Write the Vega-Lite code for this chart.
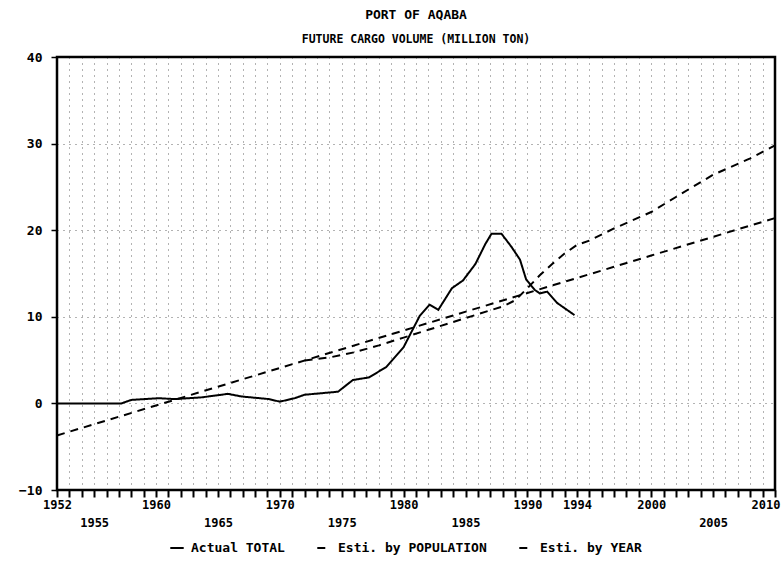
{
  "$schema": "https://vega.github.io/schema/vega-lite/v6.json",
  "width": 718,
  "height": 433,
  "autosize": "none",
  "padding": {"left": 57, "top": 57, "right": 7, "bottom": 84},
  "background": "white",
  "config": {
    "view": {"stroke": "black", "strokeWidth": 2.5},
    "font": "DejaVu Sans Mono"
  },
  "title": {
    "text": "PORT OF AQABA",
    "subtitle": "FUTURE CARGO VOLUME (MILLION TON)",
    "anchor": "middle",
    "font": "DejaVu Sans Mono",
    "fontSize": 13,
    "fontWeight": "bold",
    "color": "black",
    "subtitleFont": "DejaVu Sans Mono",
    "subtitleFontSize": 11.5,
    "subtitleFontWeight": "bold",
    "subtitleColor": "black",
    "subtitlePadding": 12,
    "offset": 6
  },
  "datasets": {
    "cargo": [
      {"year": 1952, "value": 0, "series": "Actual TOTAL"},
      {"year": 1957.2, "value": 0, "series": "Actual TOTAL"},
      {"year": 1958, "value": 0.4, "series": "Actual TOTAL"},
      {"year": 1960.2, "value": 0.6, "series": "Actual TOTAL"},
      {"year": 1961.5, "value": 0.5, "series": "Actual TOTAL"},
      {"year": 1963.7, "value": 0.7, "series": "Actual TOTAL"},
      {"year": 1965.8, "value": 1.1, "series": "Actual TOTAL"},
      {"year": 1966.9, "value": 0.8, "series": "Actual TOTAL"},
      {"year": 1969.1, "value": 0.5, "series": "Actual TOTAL"},
      {"year": 1970, "value": 0.2, "series": "Actual TOTAL"},
      {"year": 1971.2, "value": 0.6, "series": "Actual TOTAL"},
      {"year": 1972, "value": 1.0, "series": "Actual TOTAL"},
      {"year": 1974.7, "value": 1.35, "series": "Actual TOTAL"},
      {"year": 1975.9, "value": 2.7, "series": "Actual TOTAL"},
      {"year": 1977.2, "value": 3.0, "series": "Actual TOTAL"},
      {"year": 1978.6, "value": 4.2, "series": "Actual TOTAL"},
      {"year": 1980, "value": 6.5, "series": "Actual TOTAL"},
      {"year": 1981.3, "value": 10.1, "series": "Actual TOTAL"},
      {"year": 1982.1, "value": 11.4, "series": "Actual TOTAL"},
      {"year": 1982.8, "value": 10.8, "series": "Actual TOTAL"},
      {"year": 1983.9, "value": 13.3, "series": "Actual TOTAL"},
      {"year": 1984.8, "value": 14.2, "series": "Actual TOTAL"},
      {"year": 1985.8, "value": 16.1, "series": "Actual TOTAL"},
      {"year": 1986.6, "value": 18.4, "series": "Actual TOTAL"},
      {"year": 1987.1, "value": 19.6, "series": "Actual TOTAL"},
      {"year": 1987.9, "value": 19.6, "series": "Actual TOTAL"},
      {"year": 1988.7, "value": 18.1, "series": "Actual TOTAL"},
      {"year": 1989.4, "value": 16.6, "series": "Actual TOTAL"},
      {"year": 1989.9, "value": 14.3, "series": "Actual TOTAL"},
      {"year": 1990.6, "value": 13.1, "series": "Actual TOTAL"},
      {"year": 1991.0, "value": 12.7, "series": "Actual TOTAL"},
      {"year": 1991.6, "value": 12.9, "series": "Actual TOTAL"},
      {"year": 1992.4, "value": 11.6, "series": "Actual TOTAL"},
      {"year": 1993.8, "value": 10.2, "series": "Actual TOTAL"},
      {"year": 1972, "value": 4.95, "series": "Esti. by POPULATION"},
      {"year": 1974, "value": 5.3, "series": "Esti. by POPULATION"},
      {"year": 1976, "value": 5.9, "series": "Esti. by POPULATION"},
      {"year": 1978, "value": 6.7, "series": "Esti. by POPULATION"},
      {"year": 1980, "value": 7.6, "series": "Esti. by POPULATION"},
      {"year": 1982, "value": 8.5, "series": "Esti. by POPULATION"},
      {"year": 1984, "value": 9.4, "series": "Esti. by POPULATION"},
      {"year": 1986, "value": 10.3, "series": "Esti. by POPULATION"},
      {"year": 1988, "value": 11.2, "series": "Esti. by POPULATION"},
      {"year": 1989, "value": 11.9, "series": "Esti. by POPULATION"},
      {"year": 1990, "value": 13.3, "series": "Esti. by POPULATION"},
      {"year": 1991, "value": 14.8, "series": "Esti. by POPULATION"},
      {"year": 1992, "value": 16.1, "series": "Esti. by POPULATION"},
      {"year": 1993, "value": 17.3, "series": "Esti. by POPULATION"},
      {"year": 1994, "value": 18.3, "series": "Esti. by POPULATION"},
      {"year": 1995, "value": 18.8, "series": "Esti. by POPULATION"},
      {"year": 1997, "value": 20.2, "series": "Esti. by POPULATION"},
      {"year": 2000, "value": 22.1, "series": "Esti. by POPULATION"},
      {"year": 2003, "value": 24.7, "series": "Esti. by POPULATION"},
      {"year": 2005, "value": 26.4, "series": "Esti. by POPULATION"},
      {"year": 2008, "value": 28.3, "series": "Esti. by POPULATION"},
      {"year": 2010, "value": 29.8, "series": "Esti. by POPULATION"},
      {"year": 1952, "value": -3.7, "series": "Esti. by YEAR"},
      {"year": 1960, "value": -0.24, "series": "Esti. by YEAR"},
      {"year": 1970, "value": 4.09, "series": "Esti. by YEAR"},
      {"year": 1980, "value": 8.42, "series": "Esti. by YEAR"},
      {"year": 1990, "value": 12.75, "series": "Esti. by YEAR"},
      {"year": 2000, "value": 17.07, "series": "Esti. by YEAR"},
      {"year": 2010, "value": 21.4, "series": "Esti. by YEAR"}
    ]
  },
  "layer": [
    {
      "mark": {"type": "rule", "color": "black", "strokeWidth": 1.5},
      "encoding": {"y": {"datum": 0, "type": "quantitative"}}
    },
    {
      "data": {"name": "cargo"},
      "mark": {"type": "line", "color": "black", "strokeWidth": 2},
      "encoding": {
        "x": {
          "field": "year",
          "type": "quantitative",
          "scale": {"domain": [1952, 2010], "nice": false, "zero": false},
          "axis": {
            "title": null,
            "values": [1952,1953,1954,1955,1956,1957,1958,1959,1960,1961,1962,1963,1964,1965,1966,1967,1968,1969,1970,1971,1972,1973,1974,1975,1976,1977,1978,1979,1980,1981,1982,1983,1984,1985,1986,1987,1988,1989,1990,1991,1992,1993,1994,1995,1996,1997,1998,1999,2000,2001,2002,2003,2004,2005,2006,2007,2008,2009,2010],
            "format": "d",
            "labelExpr": "indexof([1952,1955,1960,1965,1970,1975,1980,1985,1990,1994,2000,2005,2010], datum.value) >= 0 ? datum.label : ''",
            "labelPadding": {"condition": {"test": "indexof([1955,1965,1975,1985,2005], datum.value) >= 0", "value": 20}, "value": 2},
            "labelAlign": {"condition": {"test": "datum.value == 2010", "value": "right"}, "value": "center"},
            "labelOffset": {"condition": {"test": "datum.value == 2010", "value": 5}, "value": 0},
            "labelOverlap": false,
            "labelFlush": false,
            "labelFont": "DejaVu Sans Mono",
            "labelFontSize": 12,
            "labelFontWeight": "bold",
            "labelColor": "black",
            "tickColor": "black",
            "tickWidth": 2,
            "tickSize": 7,
            "domain": false,
            "grid": true,
            "gridColor": "black",
            "gridDash": [1, 5],
            "gridOpacity": 0.6,
            "gridWidth": 1
          }
        },
        "y": {
          "field": "value",
          "type": "quantitative",
          "scale": {"domain": [-10, 40], "nice": false, "zero": false},
          "axis": {
            "title": null,
            "values": [-10, 0, 10, 20, 30, 40],
            "labelFont": "DejaVu Sans Mono",
            "labelFontSize": 13,
            "labelFontWeight": "bold",
            "labelColor": "black",
            "labelPadding": 9,
            "tickColor": "black",
            "tickWidth": 1.5,
            "tickSize": 6,
            "domain": false,
            "grid": true,
            "gridColor": "black",
            "gridDash": [1, 5],
            "gridOpacity": 0.6
          }
        },
        "strokeDash": {
          "field": "series",
          "type": "nominal",
          "scale": {
            "domain": ["Actual TOTAL", "Esti. by POPULATION", "Esti. by YEAR"],
            "range": [[1, 0], [8, 6], [8, 6]]
          },
          "legend": {
            "title": null,
            "orient": "none",
            "legendX": 112,
            "legendY": 483,
            "direction": "horizontal",
            "symbolType": "stroke",
            "symbolStrokeColor": "black",
            "symbolStrokeWidth": 2,
            "symbolSize": 180,
            "labelFont": "DejaVu Sans Mono",
            "labelFontSize": 13,
            "labelFontWeight": "bold",
            "labelColor": "black",
            "columnPadding": 28,
            "labelOffset": 6
          }
        }
      }
    }
  ]
}
